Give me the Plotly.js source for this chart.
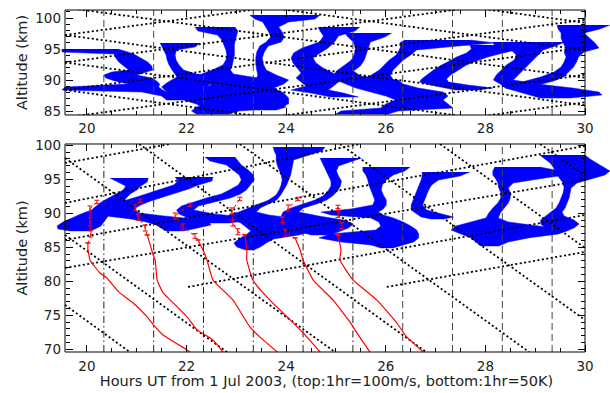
<!DOCTYPE html>
<html><head><meta charset="utf-8">
<script src="https://cdn.plot.ly/plotly-3.0.1.min.js"></script>
<style>html,body{margin:0;padding:0;background:#fff;}#chart{width:610px;height:393px;}</style>
</head><body><div id="chart"></div>
<script>
// ---------------- tick labels / reference times ----------------
const hourTicks = [20, 22, 24, 26, 28, 30];
const minorHourTicks = [20.5, 21, 21.5, 22.5, 23, 23.5, 24.5, 25, 25.5, 26.5, 27, 27.5, 28.5, 29, 29.5];
const profileHours = [20.34, 21.34, 22.34, 23.34, 24.34, 25.34, 26.34, 27.34, 28.34, 29.34];
const tempProfileHours = [20.34, 21.34, 22.34, 23.34, 24.34, 25.34];
const windProfileHours = [26.34, 27.34, 28.34, 29.34];

// ---------------- top panel wind profiles (alt km, left/right edge in hours) ----------------
const topP0Alt = [95.02, 94.54, 94.21, 93.57, 92.93, 92.28, 91.64, 91.32, 90.83, 90.35, 89.87, 89.38, 88.90, 88.42, 88.10, 87.45, 86.81];
const topP0Lo  = [19.50, 19.50, 20.55, 20.58, 20.64, 20.74, 20.84, 20.50, 20.34, 20.38, 20.56, 20.84, 19.56, 19.50, 21.10, 21.50, 21.60];
const topP0Hi  = [20.62, 20.82, 20.94, 21.08, 21.22, 21.30, 21.32, 21.20, 21.00, 21.30, 21.40, 21.46, 21.44, 21.52, 21.60, 21.90, 22.10];

const topP1Alt = [95.99, 95.34, 94.86, 94.05, 93.25, 92.44, 91.64, 90.99, 90.51, 90.03, 89.54, 88.90, 88.10, 87.29, 86.65, 86.16, 85.68, 85.20];
const topP1Lo  = [21.47, 21.51, 21.55, 21.59, 21.61, 21.65, 21.71, 21.77, 21.81, 21.70, 21.60, 21.50, 21.60, 21.80, 22.00, 22.20, 22.30, 22.50];
const topP1Hi  = [22.27, 22.17, 21.80, 21.77, 21.79, 21.85, 21.94, 22.20, 23.07, 23.10, 22.50, 22.40, 22.50, 22.80, 23.20, 23.70, 24.00, 23.80];

const topP2Alt = [98.56, 97.92, 97.27, 96.47, 95.66, 94.86, 94.05, 93.25, 92.44, 91.64, 90.99, 90.35, 89.71, 89.22, 88.74, 88.10, 87.45, 86.81, 86.16];
const topP2Lo  = [22.17, 22.23, 22.62, 22.71, 22.75, 22.79, 22.81, 22.79, 22.73, 22.52, 22.30, 22.26, 22.40, 22.50, 22.30, 22.00, 22.10, 22.20, 22.30];
const topP2Hi  = [22.97, 23.03, 23.00, 22.98, 22.96, 22.96, 22.96, 22.94, 22.92, 22.88, 22.94, 23.45, 23.95, 23.85, 23.62, 23.30, 23.60, 24.00, 24.05];

const topP3Alt = [100.49, 99.85, 99.37, 98.56, 97.76, 96.95, 96.15, 95.50, 94.54, 93.57, 92.60, 91.64, 90.83, 90.03, 89.38, 88.74, 87.93, 87.13, 86.32, 85.68, 85.04, 84.55];
const topP3Lo  = [23.27, 23.37, 23.53, 23.59, 23.65, 23.69, 23.60, 23.47, 23.41, 23.39, 23.39, 23.41, 23.43, 23.40, 23.20, 22.70, 22.60, 22.60, 22.50, 22.20, 22.10, 22.20];
const topP3Hi  = [24.68, 24.58, 24.05, 23.85, 23.92, 23.96, 23.90, 23.64, 23.56, 23.52, 23.54, 23.60, 23.80, 24.05, 23.95, 23.75, 23.95, 24.05, 24.05, 23.95, 23.05, 22.85];

const topP4Alt = [98.56, 97.92, 97.11, 96.15, 95.18, 94.38, 93.57, 92.77, 91.96, 91.16, 90.35, 89.71, 89.06, 88.42, 87.93, 87.29];
const topP4Lo  = [24.64, 24.68, 24.75, 24.67, 24.32, 24.15, 24.10, 24.14, 24.22, 24.30, 24.20, 24.30, 24.40, 24.10, 24.50, 24.90];
const topP4Hi  = [25.48, 25.38, 25.05, 24.97, 24.84, 24.68, 24.54, 24.60, 24.74, 24.94, 25.15, 25.05, 24.95, 24.85, 25.15, 25.45];

const topP5Alt = [97.60, 96.95, 96.15, 95.18, 94.21, 93.25, 92.28, 91.48, 90.67, 90.03, 89.38, 88.74, 88.10, 87.45, 86.81, 86.16, 85.52, 85.04, 84.55];
const topP5Lo  = [25.18, 25.24, 25.35, 25.39, 25.37, 25.31, 25.15, 25.01, 24.95, 25.00, 25.20, 25.40, 25.70, 26.00, 26.20, 26.00, 25.90, 25.10, 25.00];
const topP5Hi  = [26.12, 25.98, 25.69, 25.65, 25.61, 25.57, 25.49, 25.35, 25.49, 26.25, 26.35, 26.65, 27.15, 27.25, 27.15, 27.25, 27.35, 26.25, 26.05];

const topP6Alt = [96.47, 95.99, 95.50, 94.86, 94.05, 93.25, 92.44, 91.64, 90.83, 90.03, 89.38];
const topP6Lo  = [26.38, 26.28, 26.30, 26.27, 26.21, 26.07, 25.97, 25.87, 25.71, 25.61, 25.51];
const topP6Hi  = [27.69, 28.19, 27.45, 26.62, 26.50, 26.35, 26.25, 26.15, 26.09, 26.15, 26.25];

const topP7Alt = [95.66, 95.02, 94.38, 93.73, 93.09, 92.44, 91.64, 90.83, 90.19, 89.71, 89.22, 88.74, 88.42];
const topP7Lo  = [27.69, 27.72, 27.62, 27.42, 27.28, 27.12, 26.96, 26.82, 26.72, 26.68, 26.90, 27.20, 27.40];
const topP7Hi  = [29.09, 28.75, 28.35, 28.05, 27.82, 27.62, 27.46, 27.30, 27.22, 27.26, 27.65, 28.15, 27.85];

const topP8Alt = [96.15, 95.50, 94.86, 94.05, 93.25, 92.44, 91.64, 90.83, 90.03, 89.38, 88.74, 88.10, 87.61, 87.13];
const topP8Lo  = [28.15, 28.19, 28.52, 28.62, 28.58, 28.42, 28.32, 28.22, 28.16, 28.30, 28.40, 28.70, 28.90, 29.10];
const topP8Hi  = [29.60, 29.40, 29.16, 29.06, 28.96, 28.86, 28.76, 28.66, 28.56, 29.05, 29.75, 30.28, 30.34, 29.70];

const topP9Alt = [98.88, 98.24, 97.60, 96.79, 95.99, 95.18, 94.54, 93.73, 92.93, 92.12, 91.32, 90.51, 89.87, 89.22, 88.74];
const topP9Lo  = [29.44, 29.46, 29.52, 29.52, 29.56, 29.62, 29.58, 29.62, 29.58, 29.52, 29.38, 29.11, 28.81, 28.51, 28.41];
const topP9Hi  = [30.50, 30.30, 29.98, 30.08, 30.20, 30.28, 29.98, 29.87, 29.83, 29.77, 29.67, 29.57, 29.37, 29.06, 28.77];

// ---------------- bottom panel wind profiles ----------------
const botP0Alt = [95.20, 94.61, 94.02, 93.44, 92.85, 92.26, 91.67, 91.08, 90.49, 89.91, 89.32, 88.73, 88.14, 87.70, 87.41];
const botP0Lo  = [20.46, 20.62, 20.78, 20.73, 20.59, 20.45, 20.29, 20.19, 20.09, 19.88, 19.68, 19.52, 19.40, 19.42, 19.66];
const botP0Hi  = [21.23, 21.21, 21.08, 21.00, 20.87, 20.79, 20.73, 20.67, 20.59, 20.44, 20.40, 20.34, 20.28, 20.16, 20.06];

const botP1Alt = [95.35, 94.76, 94.17, 93.58, 92.99, 92.41, 91.82, 91.23, 90.64, 90.05, 89.61, 89.17, 88.73, 88.29, 87.85, 87.41];
const botP1Lo  = [21.77, 21.83, 21.74, 21.50, 21.26, 21.00, 20.73, 20.53, 20.37, 20.28, 20.38, 20.88, 21.19, 21.39, 21.49, 21.59];
const botP1Hi  = [22.53, 22.51, 22.24, 22.04, 21.80, 21.54, 21.28, 21.08, 20.94, 21.05, 21.55, 22.15, 22.45, 22.49, 22.25, 21.95];

const botP2Alt = [98.29, 97.70, 97.11, 96.38, 95.64, 94.91, 94.17, 93.44, 92.85, 92.26, 91.67, 91.08, 90.49, 89.91, 89.46, 89.02, 88.58];
const botP2Lo  = [22.37, 22.47, 22.80, 22.94, 23.06, 23.10, 23.04, 22.86, 22.70, 22.40, 22.14, 21.90, 21.80, 21.85, 21.99, 22.09, 22.25];
const botP2Hi  = [22.97, 23.03, 23.10, 23.24, 23.34, 23.36, 23.28, 23.20, 23.08, 22.88, 22.54, 22.24, 22.14, 22.55, 23.15, 23.35, 22.85];

const botP3Alt = [99.76, 99.17, 98.58, 97.85, 97.11, 96.38, 95.64, 94.91, 94.17, 93.44, 92.70, 91.96, 91.38, 90.79, 90.20, 89.76, 89.17, 88.58, 87.99, 87.41, 86.82, 86.23, 85.64, 85.05, 84.61];
const botP3Lo  = [23.74, 23.76, 23.80, 23.80, 23.82, 23.86, 23.90, 23.92, 23.90, 23.86, 23.80, 23.65, 23.45, 23.25, 23.05, 22.85, 22.89, 23.09, 23.19, 23.29, 23.19, 23.05, 22.95, 23.01, 23.19];
const botP3Hi  = [24.78, 24.72, 24.46, 24.15, 24.13, 24.11, 24.09, 24.05, 24.01, 23.95, 23.89, 23.81, 23.64, 23.48, 23.40, 23.65, 24.25, 24.55, 24.65, 24.55, 24.25, 23.75, 23.60, 23.48, 23.35];

const botP4Alt = [98.14, 97.55, 96.96, 96.23, 95.50, 94.76, 94.02, 93.29, 92.55, 91.96, 91.38, 90.79, 90.20, 89.61, 89.02, 88.44, 87.85, 87.26, 86.82];
const botP4Lo  = [24.68, 24.72, 24.76, 24.80, 24.86, 24.90, 24.90, 24.84, 24.74, 24.58, 24.34, 24.10, 23.94, 23.90, 24.10, 24.30, 24.40, 24.30, 24.50];
const botP4Hi  = [25.52, 25.28, 25.05, 25.01, 25.05, 25.11, 25.09, 25.03, 24.93, 24.81, 24.61, 24.35, 24.25, 24.65, 25.15, 25.35, 25.25, 25.05, 24.85];

const botP5Alt = [96.82, 96.23, 95.64, 94.91, 94.17, 93.44, 92.70, 91.96, 91.23, 90.64, 90.20, 89.76, 89.32, 88.73, 88.14, 87.55, 86.97, 86.38, 85.79, 85.35, 84.91];
const botP5Lo  = [25.54, 25.54, 25.60, 25.64, 25.66, 25.70, 25.74, 25.78, 25.74, 25.30, 24.70, 24.90, 25.70, 25.86, 25.90, 25.80, 24.90, 24.66, 25.10, 25.70, 25.90];
const botP5Hi  = [26.49, 26.38, 26.15, 26.01, 25.93, 25.91, 25.95, 26.01, 26.01, 25.95, 25.85, 25.95, 26.15, 26.35, 26.50, 26.62, 26.66, 26.66, 26.56, 26.35, 26.15];

const botP6Alt = [96.08, 95.49, 94.91, 94.17, 93.44, 92.70, 91.96, 91.23, 90.49, 89.91, 89.46, 89.17];
const botP6Lo  = [26.73, 26.73, 26.71, 26.67, 26.63, 26.59, 26.55, 26.51, 26.51, 26.61, 26.71, 26.91];
const botP6Hi  = [27.69, 27.49, 27.06, 26.92, 26.86, 26.82, 26.78, 26.74, 26.82, 27.10, 27.36, 27.17];

const botP7Alt = [96.82, 96.23, 95.64, 95.05, 94.46, 93.73, 92.99, 92.26, 91.52, 90.79, 90.05, 89.32, 88.73, 88.14, 87.55, 86.97, 86.38, 85.79, 85.20];
const botP7Lo  = [28.19, 28.15, 28.15, 28.21, 28.25, 28.27, 28.31, 28.31, 28.25, 28.15, 28.07, 28.01, 27.71, 27.41, 27.31, 27.51, 27.71, 27.81, 27.91];
const botP7Hi  = [29.09, 29.50, 29.60, 29.06, 28.56, 28.46, 28.50, 28.50, 28.46, 28.38, 28.30, 28.26, 28.46, 29.06, 29.67, 29.47, 28.86, 28.46, 28.27];

const botP8Alt = [98.58, 97.99, 97.41, 96.82, 96.23, 95.64, 95.05, 94.46, 93.73, 92.99, 92.26, 91.52, 90.79, 90.20, 89.61, 89.02, 88.44, 87.85, 87.26];
const botP8Lo  = [29.09, 29.19, 29.30, 29.36, 29.40, 29.44, 29.50, 29.56, 29.58, 29.56, 29.52, 29.48, 29.42, 29.32, 29.21, 29.11, 29.11, 29.21, 29.28];
const botP8Hi  = [30.00, 30.10, 30.24, 30.36, 30.50, 30.40, 30.10, 29.84, 29.72, 29.70, 29.68, 29.64, 29.60, 29.54, 29.58, 29.78, 29.88, 29.78, 29.58];

// ---------------- dotted reference lines ----------------
// top panel: from frame left (19.56 h) to frame right (30.0 h)
const topRiseAltStart = [97.27, 92.85, 88.42, 83.99, 79.56, 75.13];
const topRiseAltEnd   = [108.58, 104.16, 99.73, 95.30, 90.87, 86.44];
const topFallAltStart = [110.56, 106.13, 101.70, 97.27, 92.85, 88.42];
const topFallAltEnd   = [99.25, 94.82, 90.39, 85.96, 81.54, 77.11];
// bottom panel segments
const botLineX0 = [19.56, 19.56, 19.56, 19.56, 22.03, 26.02, 19.56, 19.56, 19.56, 21.05, 23.07, 25.08, 27.09, 29.10];
const botLineY0 = [97.41, 91.52, 86.08, 81.96, 79.17, 79.17, 98.14, 86.82, 76.52, 100.2, 100.2, 100.2, 100.2, 100.2];
const botLineX1 = [21.67, 25.48, 30.00, 30.00, 30.00, 30.00, 24.98, 22.81, 20.86, 26.81, 28.88, 30.00, 30.00, 30.00];
const botLineY1 = [100.2, 100.2, 99.91, 94.91, 89.76, 84.32, 69.6, 69.6, 69.6, 69.6, 69.6, 74.32, 84.91, 95.49];

// ---------------- temperature profiles (red) ----------------
const temp0X = [20.02, 20.02, 20.04, 20.06, 20.26, 20.40, 20.66, 20.93, 21.21, 21.37, 21.53, 22.01, 22.07];
const temp0Alt = [85.64, 84.61, 83.88, 83.14, 81.23, 80.49, 78.29, 76.82, 74.76, 73.29, 72.11, 69.91, 69.61];
const temp1X = [21.21, 21.27, 21.33, 21.37, 21.41, 21.53, 21.67, 22.01, 22.21, 22.53, 22.73];
const temp1Alt = [86.82, 85.35, 83.88, 83.14, 80.20, 78.29, 77.26, 74.76, 72.85, 71.38, 69.61];
const temp2X = [22.23, 22.33, 22.41, 22.53, 22.93, 23.27, 23.47, 23.82];
const temp2Alt = [86.08, 84.61, 83.14, 80.20, 77.26, 73.29, 71.82, 69.61];
const temp3X = [23.17, 23.21, 23.21, 23.33, 23.61, 24.08, 24.34, 24.68];
const temp3Alt = [86.82, 84.61, 83.14, 80.20, 77.70, 74.32, 72.41, 69.61];
const temp4X = [24.18, 24.28, 24.34, 24.54, 24.94, 25.28, 25.42, 25.68];
const temp4Alt = [86.38, 84.61, 83.14, 80.20, 77.26, 74.02, 72.41, 69.61];
const temp5X = [25.04, 25.10, 25.08, 25.34, 25.82, 26.22, 26.42, 26.75];
const temp5Alt = [86.82, 84.61, 83.14, 80.20, 77.26, 73.88, 71.82, 69.61];

const tempUp0X = [20.20, 20.06, 20.06, 20.08, 20.02];
const tempUp0Alt = [91.67, 90.64, 88.73, 86.97, 85.64];
const tempUp0Err = [0.25, 0.45, 0.6, 0.45, null];
const tempUp1X = [21.07, 20.97, 21.03, 21.17, 21.21];
const tempUp1Alt = [91.82, 90.79, 89.46, 87.85, 86.82];
const tempUp1Err = [0.25, 0.45, 0.45, 0.45, null];
const tempUp2X = [22.07, 21.77, 21.93, 22.17, 22.23];
const tempUp2Alt = [91.23, 89.61, 87.99, 86.67, 86.08];
const tempUp2Err = [0.25, 0.45, 0.45, 0.35, null];
const tempUp3X = [23.07, 22.91, 22.93, 23.03, 23.17];
const tempUp3Alt = [92.11, 90.35, 88.58, 87.30, 86.82];
const tempUp3Err = [0.25, 0.45, 0.45, 0.45, null];
const tempUp4X = [24.24, 24.04, 23.92, 23.98, 24.18];
const tempUp4Alt = [92.11, 90.79, 89.02, 87.11, 86.38];
const tempUp4Err = [0.25, 0.45, 0.4, 0.45, null];
const tempUp5X = [25.04, 25.04, 25.12, 25.04];
const tempUp5Alt = [90.94, 89.91, 88.14, 86.82];
const tempUp5Err = [0.25, 0.5, 0.45, null];

// ---------------- build traces ----------------
const FRAME_X = [19.56, 30.0];
const TOP_Y = [84.4, 101.3];
const BOT_Y = [69.6, 100.2];
const X_FULL = [19.118, 30.502];
const BLUE = '#0000ff';
const RED = '#ff0000';

function band(alt, lo, hi, xa, ya) {
  return {
    type: 'scatter', mode: 'lines', xaxis: xa, yaxis: ya,
    x: lo.concat(hi.slice().reverse()),
    y: alt.concat(alt.slice().reverse()),
    fill: 'toself', fillcolor: BLUE,
    line: {color: BLUE, width: 0.5, shape: 'linear'},
    hoverinfo: 'skip', showlegend: false
  };
}
function segments(x0, y0, x1, y1) {
  const xs = [], ys = [];
  for (let i = 0; i < x0.length; i++) { xs.push(x0[i], x1[i], null); ys.push(y0[i], y1[i], null); }
  return {xs, ys};
}
function vlines(times, yr) {
  const xs = [], ys = [];
  times.forEach(t => { xs.push(t, t, null); ys.push(yr[0], yr[1], null); });
  return {xs, ys};
}

const traces = [];
[[topP0Alt, topP0Lo, topP0Hi], [topP1Alt, topP1Lo, topP1Hi], [topP2Alt, topP2Lo, topP2Hi],
 [topP3Alt, topP3Lo, topP3Hi], [topP4Alt, topP4Lo, topP4Hi], [topP5Alt, topP5Lo, topP5Hi],
 [topP6Alt, topP6Lo, topP6Hi], [topP7Alt, topP7Lo, topP7Hi], [topP8Alt, topP8Lo, topP8Hi],
 [topP9Alt, topP9Lo, topP9Hi]].forEach(p => traces.push(band(p[0], p[1], p[2], 'x', 'y')));
[[botP0Alt, botP0Lo, botP0Hi], [botP1Alt, botP1Lo, botP1Hi], [botP2Alt, botP2Lo, botP2Hi],
 [botP3Alt, botP3Lo, botP3Hi], [botP4Alt, botP4Lo, botP4Hi], [botP5Alt, botP5Lo, botP5Hi],
 [botP6Alt, botP6Lo, botP6Hi], [botP7Alt, botP7Lo, botP7Hi], [botP8Alt, botP8Lo, botP8Hi]]
 .forEach(p => traces.push(band(p[0], p[1], p[2], 'x2', 'y2')));

const vTop = vlines(profileHours, TOP_Y);
traces.push({type: 'scatter', mode: 'lines', x: vTop.xs, y: vTop.ys, xaxis: 'x', yaxis: 'y',
  line: {color: '#444', width: 1, dash: '7px,4px'}, hoverinfo: 'skip', showlegend: false});
const vBotDD = vlines(tempProfileHours, BOT_Y);
traces.push({type: 'scatter', mode: 'lines', x: vBotDD.xs, y: vBotDD.ys, xaxis: 'x2', yaxis: 'y2',
  line: {color: '#222', width: 1, dash: '7px,3px,1.5px,3px'}, hoverinfo: 'skip', showlegend: false});
const vBotD = vlines(windProfileHours, BOT_Y);
traces.push({type: 'scatter', mode: 'lines', x: vBotD.xs, y: vBotD.ys, xaxis: 'x2', yaxis: 'y2',
  line: {color: '#444', width: 1, dash: '7px,4px'}, hoverinfo: 'skip', showlegend: false});

const topX0 = topRiseAltStart.map(() => FRAME_X[0]).concat(topFallAltStart.map(() => FRAME_X[0]));
const topX1 = topRiseAltEnd.map(() => FRAME_X[1]).concat(topFallAltEnd.map(() => FRAME_X[1]));
const sTop = segments(topX0, topRiseAltStart.concat(topFallAltStart), topX1, topRiseAltEnd.concat(topFallAltEnd));
traces.push({type: 'scatter', mode: 'lines', x: sTop.xs, y: sTop.ys, xaxis: 'x', yaxis: 'y',
  line: {color: '#000', width: 1.8, dash: '2px,2.5px'}, hoverinfo: 'skip', showlegend: false});
const sBot = segments(botLineX0, botLineY0, botLineX1, botLineY1);
traces.push({type: 'scatter', mode: 'lines', x: sBot.xs, y: sBot.ys, xaxis: 'x2', yaxis: 'y2',
  line: {color: '#000', width: 1.8, dash: '2px,2.5px'}, hoverinfo: 'skip', showlegend: false});

[[temp0X, temp0Alt], [temp1X, temp1Alt], [temp2X, temp2Alt], [temp3X, temp3Alt], [temp4X, temp4Alt], [temp5X, temp5Alt]]
 .forEach(c => traces.push({type: 'scatter', mode: 'lines', x: c[0], y: c[1], xaxis: 'x2', yaxis: 'y2',
   line: {color: RED, width: 1.2, shape: 'spline', smoothing: 0.4}, hoverinfo: 'skip', showlegend: false}));
[[tempUp0X, tempUp0Alt, tempUp0Err], [tempUp1X, tempUp1Alt, tempUp1Err], [tempUp2X, tempUp2Alt, tempUp2Err],
 [tempUp3X, tempUp3Alt, tempUp3Err], [tempUp4X, tempUp4Alt, tempUp4Err], [tempUp5X, tempUp5Alt, tempUp5Err]]
 .forEach(c => traces.push({type: 'scatter', mode: 'lines', x: c[0], y: c[1], xaxis: 'x2', yaxis: 'y2',
   line: {color: RED, width: 1, dash: '4px,3px'},
   error_y: {type: 'data', array: c[2], visible: true, color: RED, thickness: 1, width: 2.5},
   hoverinfo: 'skip', showlegend: false}));

traces.push({type: 'scatter', mode: 'markers', x: [25], y: [90], xaxis: 'x', yaxis: 'y3',
  marker: {size: 1, color: 'rgba(0,0,0,0)'}, hoverinfo: 'skip', showlegend: false});
traces.push({type: 'scatter', mode: 'markers', x: [25], y: [90], xaxis: 'x2', yaxis: 'y4',
  marker: {size: 1, color: 'rgba(0,0,0,0)'}, hoverinfo: 'skip', showlegend: false});

// ---------------- layout ----------------
const PLOT_W = 567;
const leftPos = 22 / PLOT_W, rightPos = 542 / PLOT_W;
const tickFont = {family: 'DejaVu Sans', size: 13.5, color: '#222'};
const titleFont = {family: 'DejaVu Sans', size: 14.5, color: '#222'};
function xAxis(anchor, title) {
  const a = {
    domain: [0, 1], range: X_FULL, anchor: anchor, showline: false, zeroline: false, showgrid: false,
    ticks: 'inside', ticklen: 7, tickwidth: 1, tickcolor: '#000', mirror: 'ticks',
    tickmode: 'array', tickvals: hourTicks, ticktext: hourTicks.map(String),
    showticklabels: true, tickfont: tickFont, ticklabelstandoff: 4,
    minor: {tickmode: 'array', tickvals: minorHourTicks, ticks: 'inside', ticklen: 4, tickwidth: 1, tickcolor: '#000'}
  };
  if (title) a.title = {text: title, font: titleFont, standoff: 2};
  return a;
}
function yAxis(domain, range, pos, side, labels, overlay) {
  const a = {
    domain: domain, range: range, anchor: 'free', position: pos, side: side,
    showline: false, zeroline: false, showgrid: false,
    ticks: 'inside', ticklen: 7, tickwidth: 1, tickcolor: '#000', dtick: 5, tick0: 0,
    showticklabels: labels, tickfont: tickFont, ticklabelstandoff: 4,
    minor: {dtick: 1, ticks: 'inside', ticklen: 4, tickwidth: 1, tickcolor: '#000'}
  };
  if (overlay) a.overlaying = overlay;
  if (labels) a.title = {text: 'Altitude (km)', font: titleFont, standoff: 3};
  return a;
}
const TOP_DOM = [0.693, 1.0], BOT_DOM = [0, 0.6082];
const layout = {
  width: 610, height: 393,
  margin: {l: 43, r: 0, t: 10, b: 41, pad: 0},
  paper_bgcolor: '#ffffff', plot_bgcolor: 'rgba(0,0,0,0)',
  showlegend: false,
  font: {family: 'DejaVu Sans', size: 13, color: '#222'},
  xaxis: xAxis('y', null),
  xaxis2: xAxis('y2', 'Hours UT from 1 Jul 2003, (top:1hr=100m/s, bottom:1hr=50K)'),
  yaxis: yAxis(TOP_DOM, TOP_Y, leftPos, 'left', true, null),
  yaxis2: yAxis(BOT_DOM, BOT_Y, leftPos, 'left', true, null),
  yaxis3: yAxis(TOP_DOM, TOP_Y, rightPos, 'right', false, 'y'),
  yaxis4: yAxis(BOT_DOM, BOT_Y, rightPos, 'right', false, 'y2'),
  shapes: [
    {type: 'rect', xref: 'x', yref: 'y domain', x0: FRAME_X[0], x1: FRAME_X[1], y0: 0, y1: 1, line: {color: '#000', width: 1}, layer: 'above'},
    {type: 'rect', xref: 'x2', yref: 'y2 domain', x0: FRAME_X[0], x1: FRAME_X[1], y0: 0, y1: 1, line: {color: '#000', width: 1}, layer: 'above'}
  ]
};
Plotly.newPlot('chart', traces, layout, {displayModeBar: false, staticPlot: true});
</script></body></html>
